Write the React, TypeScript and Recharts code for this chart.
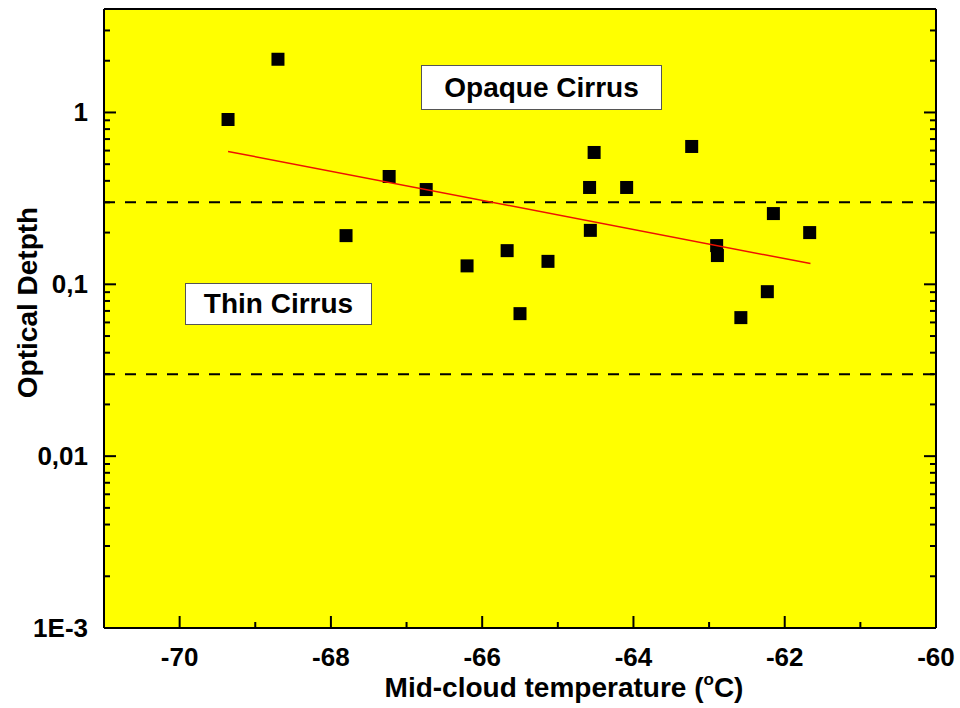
import React from 'react';
import {
  ScatterChart,
  Scatter,
  XAxis,
  YAxis,
  CartesianGrid,
  ReferenceLine,
} from 'recharts';

// measured cirrus clouds: mid-cloud temperature (°C) vs optical depth
const temperatures = [
  -69.36, -68.7, -67.23, -66.74, -67.8, -66.2, -65.67, -65.13, -65.5, -64.52,
  -64.58, -64.09, -63.23, -64.57, -62.9, -62.89, -62.15, -61.67, -62.23, -62.58,
];
const opticalDepths = [
  0.91, 2.04, 0.424, 0.356, 0.192, 0.128, 0.157, 0.136, 0.0675, 0.585,
  0.366, 0.366, 0.634, 0.206, 0.168, 0.147, 0.258, 0.2, 0.0906, 0.064,
];

// fitted trend (end points of the red line)
const fitTemperatures = [-69.36, -61.66];
const fitDepths = [0.593, 0.132];

// class thresholds
const thresholds = [0.3, 0.03];

const xTicks = [-71, -70, -69, -68, -67, -66, -65, -64, -63, -62, -61, -60];
const xMajor = [-70, -68, -66, -64, -62, -60];

const yTicks = [
  0.001, 0.002, 0.003, 0.004, 0.005, 0.006, 0.007, 0.008, 0.009,
  0.01, 0.02, 0.03, 0.04, 0.05, 0.06, 0.07, 0.08, 0.09,
  0.1, 0.2, 0.3, 0.4, 0.5, 0.6, 0.7, 0.8, 0.9,
  1, 2, 3, 4,
];
const yMajor = [0.001, 0.01, 0.1, 1];
const yTickLabels = ['1E-3', '0,01', '0,1', '1'];

const points = temperatures.map((t, i) => ({ x: t, y: opticalDepths[i] }));
const fit = fitTemperatures.map((t, i) => ({ x: t, y: fitDepths[i] }));

const FONT = '"Liberation Sans", Arial, sans-serif';

const majorIndex = (v: number) => yMajor.findIndex((m) => Math.abs(m - v) < m * 1e-6);

const BottomTick = (props: any) => {
  const { x, y, payload } = props;
  const major = xMajor.includes(payload.value);
  return (
    <g>
      <line x1={x} y1={y} x2={x} y2={y - (major ? 12 : 6)} stroke="#000" strokeWidth={2} />
      {major && (
        <text x={x} y={y + 38} textAnchor="middle" fontFamily={FONT} fontWeight="bold" fontSize={26} fill="#000">
          {payload.value}
        </text>
      )}
    </g>
  );
};

const TopTick = (props: any) => {
  const { x, y, payload } = props;
  const major = xMajor.includes(payload.value);
  return <line x1={x} y1={y} x2={x} y2={y + (major ? 12 : 6)} stroke="#000" strokeWidth={2} />;
};

const LeftTick = (props: any) => {
  const { x, y, payload } = props;
  const idx = majorIndex(payload.value);
  const major = idx >= 0;
  return (
    <g>
      <line x1={x} y1={y} x2={x + (major ? 12 : 6)} y2={y} stroke="#000" strokeWidth={2} />
      {major && (
        <text x={x - 16} y={y + 9} textAnchor="end" fontFamily={FONT} fontWeight="bold" fontSize={26} fill="#000">
          {yTickLabels[idx]}
        </text>
      )}
    </g>
  );
};

const RightTick = (props: any) => {
  const { x, y, payload } = props;
  const major = majorIndex(payload.value) >= 0;
  return <line x1={x} y1={y} x2={x - (major ? 12 : 6)} y2={y} stroke="#000" strokeWidth={2} />;
};

const XTitle = (props: any) => {
  const { viewBox } = props;
  const cx = viewBox.x + viewBox.width / 2 + 44;
  return (
    <text x={cx} y={viewBox.y + 69} textAnchor="middle" fontFamily={FONT} fontWeight="bold" fontSize={28} fill="#000">
      Mid-cloud temperature (
      <tspan dy={-12} fontSize={17}>o</tspan>
      <tspan dy={12}>C)</tspan>
    </text>
  );
};

const YTitle = (props: any) => {
  const { viewBox } = props;
  const cy = viewBox.y + viewBox.height / 2 - 16;
  const cx = 37;
  return (
    <text
      x={cx}
      y={cy}
      transform={`rotate(-90, ${cx}, ${cy})`}
      textAnchor="middle"
      fontFamily={FONT}
      fontWeight="bold"
      fontSize={28}
      fill="#000"
    >
      Optical Detpth
    </text>
  );
};

const Square = (props: any) => {
  const { cx, cy } = props;
  return <rect x={cx - 6.5} y={cy - 6.5} width={13} height={13} fill="#000" />;
};

const NoMark = () => <g />;

const boxStyle: React.CSSProperties = {
  position: 'absolute',
  background: '#fff',
  border: '1.5px solid #555',
  fontFamily: FONT,
  fontWeight: 'bold',
  fontSize: 28,
  color: '#000',
  display: 'flex',
  alignItems: 'center',
  justifyContent: 'center',
  boxSizing: 'border-box',
};

export default function App() {
  return (
    <div style={{ position: 'absolute', left: 0, top: 0, width: 960, height: 708, background: '#fff' }}>
      <ScatterChart width={960} height={708} margin={{ top: 0, right: 0, bottom: 0, left: 0 }}>
        <CartesianGrid horizontal={false} vertical={false} fill="#ffff00" fillOpacity={1} stroke="none" />
        <XAxis
          dataKey="x"
          type="number"
          domain={[-71, -60]}
          ticks={xTicks}
          interval={0}
          height={80}
          tickSize={0}
          tickMargin={0}
          tickLine={false}
          tick={<BottomTick />}
          axisLine={{ stroke: '#000', strokeWidth: 2 }}
          label={<XTitle />}
          allowDataOverflow
        />
        <XAxis
          xAxisId="top"
          orientation="top"
          type="number"
          domain={[-71, -60]}
          ticks={xTicks}
          interval={0}
          height={9}
          tickSize={0}
          tickMargin={0}
          tickLine={false}
          tick={<TopTick />}
          axisLine={{ stroke: '#000', strokeWidth: 2 }}
          allowDataOverflow
        />
        <YAxis
          dataKey="y"
          type="number"
          scale="log"
          domain={[0.001, 4]}
          ticks={yTicks}
          interval={0}
          width={104}
          tickSize={0}
          tickMargin={0}
          tickLine={false}
          tick={<LeftTick />}
          axisLine={{ stroke: '#000', strokeWidth: 2 }}
          label={<YTitle />}
          allowDataOverflow
        />
        <YAxis
          yAxisId="right"
          orientation="right"
          type="number"
          scale="log"
          domain={[0.001, 4]}
          ticks={yTicks}
          interval={0}
          width={24}
          tickSize={0}
          tickMargin={0}
          tickLine={false}
          tick={<RightTick />}
          axisLine={{ stroke: '#000', strokeWidth: 2 }}
          allowDataOverflow
        />
        {thresholds.map((t) => (
          <ReferenceLine key={t} y={t} stroke="#000" strokeWidth={2} strokeDasharray="11 10" />
        ))}
        <Scatter data={points} shape={<Square />} isAnimationActive={false} />
        <Scatter
          data={fit}
          line={{ stroke: '#ee1100', strokeWidth: 1.5 }}
          shape={<NoMark />}
          isAnimationActive={false}
        />
      </ScatterChart>
      <div style={{ ...boxStyle, left: 421, top: 65, width: 241, height: 45 }}>Opaque Cirrus</div>
      <div style={{ ...boxStyle, left: 185, top: 283, width: 187, height: 42 }}>Thin Cirrus</div>
    </div>
  );
}
